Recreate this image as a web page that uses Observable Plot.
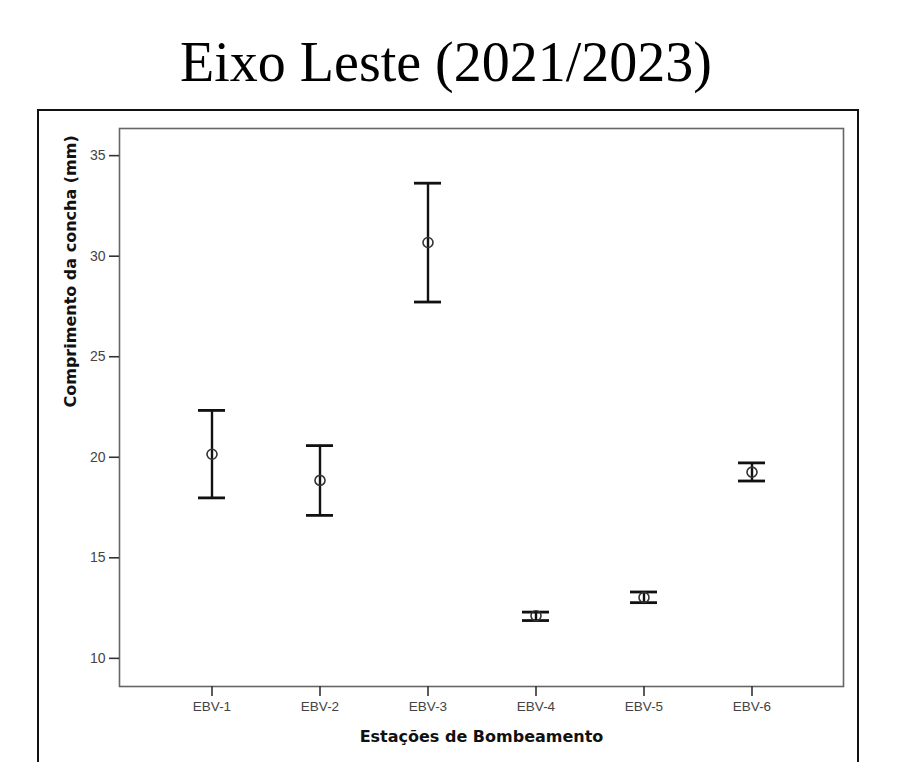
<!DOCTYPE html>
<html>
<head>
<meta charset="utf-8">
<script src="https://cdn.jsdelivr.net/npm/d3@7"></script>
<script src="https://cdn.jsdelivr.net/npm/@observablehq/plot@0.6"></script>
<style>
  html, body { margin: 0; padding: 0; background: #fff; }
  body { width: 914px; height: 762px; overflow: hidden; position: relative; }
  #title {
    position: absolute; left: 0; top: 34px; width: 892px;
    text-align: center; font-family: "Liberation Serif", "DejaVu Serif", serif;
    font-size: 56px; line-height: 56px; color: #000; white-space: nowrap;
  }
  #outer {
    position: absolute; left: 37px; top: 109px; width: 818px; height: 720px;
    border: 2px solid #111; pointer-events: none; z-index: 2;
  }
  #chart { position: absolute; left: 0; top: 110px; }
</style>
</head>
<body>
<div id="title">Eixo Leste (2021/2023)</div>
<div id="outer"></div>
<div id="chart"></div>
<script>
const stations = ["EBV-1", "EBV-2", "EBV-3", "EBV-4", "EBV-5", "EBV-6"];
const means = [20.15, 18.85, 30.68, 12.12, 13.03, 19.26];
const upper = [22.33, 20.58, 33.63, 12.30, 13.30, 19.72];
const lower = [17.98, 17.11, 27.72, 11.88, 12.77, 18.82];
const yTicks = [10, 15, 20, 25, 30, 35];
const xTitle = "Estações de Bombeamento";
const yTitle = "Comprimento da concha (mm)";

const data = stations.map((s, i) => ({station: s, mean: means[i], hi: upper[i], lo: lower[i]}));

const plot = Plot.plot({
  width: 914,
  height: 652,
  marginLeft: 119,
  marginRight: 71,
  marginTop: 18,
  marginBottom: 76,
  style: {background: "transparent", overflow: "visible", fontSize: "14px", fontFamily: "Liberation Sans, Arial, sans-serif"},
  x: {type: "band", domain: stations, paddingInner: 0.75, paddingOuter: 0.714, axis: null},
  y: {domain: [8.6, 36.35], axis: null},
  marks: [
    Plot.frame({stroke: "#666", strokeWidth: 1.6}),
    Plot.axisY(yTicks, {
      anchor: "left", tickSize: 10, tickPadding: 4, stroke: "#333", strokeWidth: 1.6,
      fontSize: 14, fill: "#444", label: null
    }),
    Plot.axisX(stations, {
      anchor: "bottom", tickSize: 10, tickPadding: 5, stroke: "#333", strokeWidth: 1.6,
      fontSize: 13.5, fill: "#444", label: null
    }),
    Plot.ruleX(data, {x: "station", y1: "lo", y2: "hi", stroke: "#111", strokeWidth: 2.4}),
    Plot.tickY(data, {x: "station", y: "hi", stroke: "#111", strokeWidth: 2.8}),
    Plot.tickY(data, {x: "station", y: "lo", stroke: "#111", strokeWidth: 2.8}),
    Plot.dot(data, {x: "station", y: "mean", r: 5, stroke: "#333", strokeWidth: 1.6, fill: "none"}),
    Plot.text([xTitle], {
      frameAnchor: "bottom", dy: 50, lineAnchor: "middle",
      fontFamily: "DejaVu Sans, sans-serif", fontWeight: "bold", fontSize: 16, fill: "#111"
    }),
    Plot.text([yTitle], {
      frameAnchor: "left", dx: -49, rotate: -90, lineAnchor: "middle",
      fontFamily: "DejaVu Sans, sans-serif", fontWeight: "bold", fontSize: 16, fill: "#111"
    })
  ]
});
document.getElementById("chart").appendChild(plot);
</script>
</body>
</html>
